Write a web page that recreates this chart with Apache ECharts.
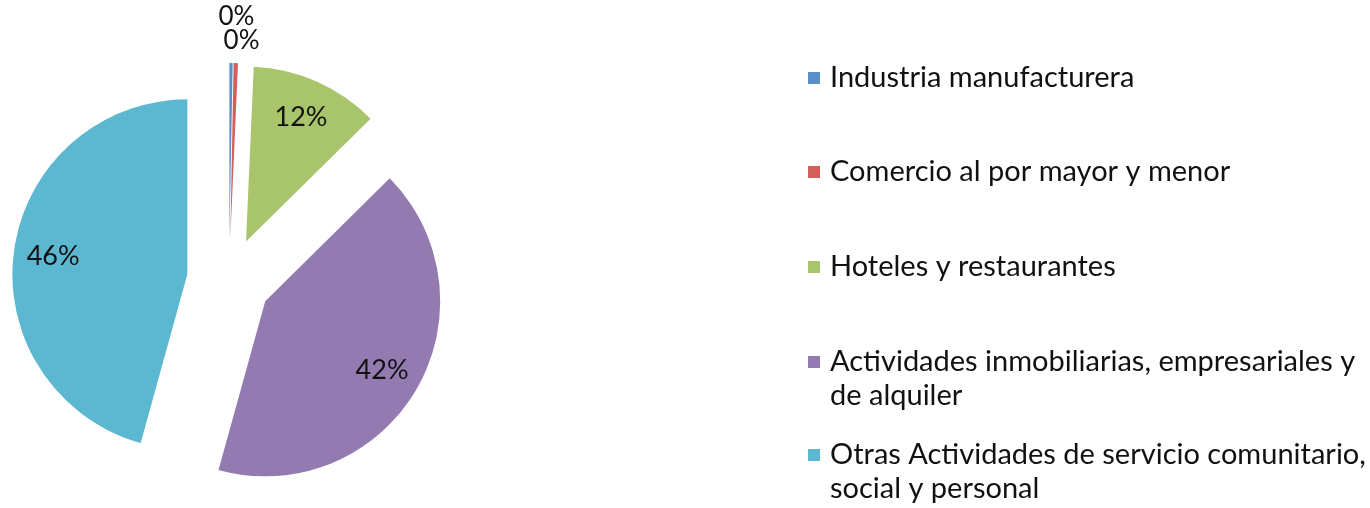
<!DOCTYPE html>
<html>
<head>
<meta charset="utf-8">
<script src="https://cdn.jsdelivr.net/npm/echarts@6/dist/echarts.min.js"></script>
<style>
  html, body { margin: 0; padding: 0; background: #fff; }
  #main { width: 1370px; height: 508px; }
</style>
</head>
<body>
<div id="main"></div>
<script>
  // sectores (orden de la leyenda) y su participación en %
  var categories = [
    "Industria manufacturera",
    "Comercio al por mayor y menor",
    "Hoteles y restaurantes",
    "Actividades inmobiliarias, empresariales y de alquiler",
    "Otras Actividades de servicio comunitario, social y personal"
  ];
  var shares = [0.3, 0.4, 11.9, 41.7, 45.7];
  var colors = ["#5B8FCB", "#D35F5B", "#A8C56C", "#937BB1", "#5CB8D1"];

  var FONT = "Lato";
  var chart = echarts.init(document.getElementById("main"));

  // largo de la guia de las etiquetas "0%" (apiladas arriba del pastel)
  var smallLabelLen = [46, 23, 20, 20, 20];

  var pieData = categories.map(function (name, i) {
    return {
      name: name, value: shares[i], selected: true,
      itemStyle: {color: colors[i]},
      labelLine: {length: smallLabelLen[i]}
    };
  });

  // posicion de cada leyenda (una por entrada, como en Excel)
  var legendTops = [61, 155, 250, 311, 404];
  // palabras en la primera linea (0 = sin corte)
  var wrapAfter = [0, 0, 0, 4, 5];

  var legends = categories.map(function (name, i) {
    return {
      data: [name],
      orient: "vertical",
      left: 808,
      top: legendTops[i],
      padding: 0,
      itemWidth: 12,
      itemHeight: 12,
      icon: "rect",
      selectedMode: false,
      formatter: function (n) {
        if (!wrapAfter[i]) return n;
        var w = n.split(" ");
        // linea vacia arriba para que el cuadro quede junto a la primera linea
        return "\n" + w.slice(0, wrapAfter[i]).join(" ") + "\n" + w.slice(wrapAfter[i]).join(" ");
      },
      textStyle: {
        fontFamily: FONT,
        fontSize: 29,
        color: "#111",
        lineHeight: 34,
        padding: [0, 0, 0, 5]
      }
    };
  });

  var option = {
    animation: false,
    legend: legends,
    series: [
      {
        // pastel explotado; solo los 0% llevan etiqueta fuera
        type: "pie",
        center: [229, 280],
        radius: 175,
        selectedMode: "multiple",
        selectedOffset: 42,
        avoidLabelOverlap: false,
        emphasis: {disabled: true},
        data: pieData,
        label: {
          show: true,
          position: "outside",
          fontFamily: FONT,
          fontSize: 26,
          color: "#111",
          formatter: function (p) {
            return Math.round(p.percent) < 1 ? Math.round(p.percent) + "%" : "";
          }
        },
        labelLine: {show: false, length2: 0},
        labelLayout: function (p) {
          return {dx: -p.labelRect.width / 2};
        }
      },
      {
        // anillo transparente para colocar las etiquetas grandes mas afuera
        type: "pie",
        center: [229, 280],
        radius: [90, 175],
        selectedMode: "multiple",
        selectedOffset: 42,
        silent: true,
        emphasis: {disabled: true},
        data: categories.map(function (name, i) {
          return {name: name, value: shares[i], selected: true, itemStyle: {color: "rgba(0,0,0,0)"}};
        }),
        label: {
          show: true,
          position: "inside",
          fontFamily: FONT,
          fontSize: 27,
          color: "#111",
          formatter: function (p) {
            return Math.round(p.percent) >= 1 ? Math.round(p.percent) + "%" : "";
          }
        },
        labelLine: {show: false}
      }
    ]
  };
  chart.setOption(option);
</script>
</body>
</html>
